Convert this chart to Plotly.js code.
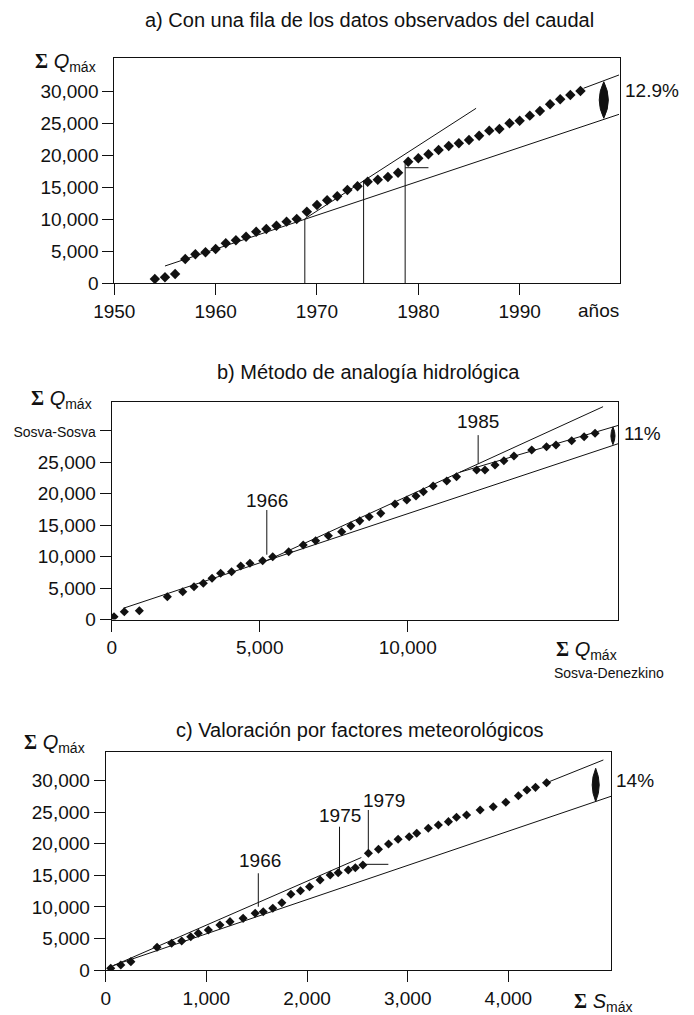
<!DOCTYPE html>
<html><head><meta charset="utf-8">
<script src="https://cdn.plot.ly/plotly-3.0.1.min.js"></script>
<style>html,body{margin:0;padding:0;background:#fff}</style>
</head><body><div id="chart" style="width:694px;height:1015px"></div>
<script>
// ---------- Panel a: cumulative flow vs year ----------
const yearsA = [1954,1955,1956,1957,1958,1959,1960,1961,1962,1963,1964,1965,1966,1967,1968,1969,1970,1971,1972,1973,1974,1975,1976,1977,1978,1979,1980,1981,1982,1983,1984,1985,1986,1987,1988,1989,1990,1991,1992,1993,1994,1995,1996];
const sumQA = [670,940,1460,3800,4540,4860,5370,6260,6730,7300,8080,8500,9020,9650,10070,11210,12260,13000,13620,14610,15190,15910,16220,16650,17320,19040,19580,20200,20880,21500,21920,22440,23110,23900,24160,25060,25460,26250,26980,28030,28810,29490,30110];
const aLineLowerX = [1955, 1999.8], aLineLowerY = [2710, 26460];
const aLineUpperX = [1968.8, 1985.7], aLineUpperY = [10100, 27400];
const aLineTopX = [1996.3, 1999.8], aLineTopY = [30540, 32620];
const aMarkX = [1968.8, 1974.6, 1978.7], aMarkTop = [10100, 16100, 19000];
const aStepX = [1978.7, 1981], aStepY = [18100, 18100];
const aArrowX = 1998.3, aArrowY = [25840, 31570];
const aXTicks = [1950,1960,1970,1980,1990];
const aYTicks = [0,5000,10000,15000,20000,25000,30000];

// ---------- Panel b: hydrological analogy ----------
const sumQDenezkino = [78,426,934,1880,2400,2780,3095,3390,3680,4050,4360,4670,5100,5440,5980,6470,6890,7320,7770,8080,8380,8700,9090,9570,9970,10280,10530,10860,11320,11650,12330,12610,12950,13250,13590,14190,14690,15010,15540,15960,16330];
const sumQSosva = [445,1240,1400,3620,4420,5210,5750,6550,7340,7600,8500,8930,9340,9980,10770,11840,12520,13320,13950,14880,15680,16340,16870,18350,18990,19620,20310,21210,22010,22690,23750,23750,24550,25230,25980,26930,27460,27730,28410,29050,29590];
const bLineLowerX = [390, 17150], bLineLowerY = [1780, 28000];
const bLineUpperX = [5240, 16600], bLineUpperY = [9370, 33820];
const bLineMidX = [11770, 17150], bLineMidY = [23420, 30900];
const bMarkX = [5240, 12380], bMarkY0 = [10300, 24750], bMarkY1 = [17400, 29300];
const bMarkLabels = ["1966", "1985"], bLabelY = [18990, 31430];
const bArrowX = 16934, bArrowY = [27800, 30600];
const bXTicks = [0,5000,10000];
const bYTicks = [0,5000,10000,15000,20000,25000,30000];
const bTopTickLabel = "Sosva-Sosva";

// ---------- Panel c: meteorological factors ----------
const sumSmax = [50,150,250,510,655,755,845,920,1020,1135,1235,1365,1485,1565,1660,1750,1840,1935,2025,2130,2230,2310,2410,2480,2555,2610,2710,2810,2905,3015,3090,3205,3305,3405,3485,3585,3720,3850,3975,4100,4185,4270,4380];
const sumQC = [270,790,1320,3600,4230,4600,5280,5820,6340,7130,7660,8190,8990,9240,9780,10670,12000,12570,13200,14270,15060,15420,15850,16200,16640,18500,19130,19970,20720,21130,21670,22460,22980,23510,24200,24570,25360,25880,26580,27630,28530,28950,29680];
const cLineLowerX = [80, 5020], cLineLowerY = [750, 27530];
const cLineUpperX = [40, 2540], cLineUpperY = [430, 17830];
const cLineTopX = [4380, 4944], cLineTopY = [29680, 33290];
const cMarkX = [1516, 2323, 2609], cMarkY0 = [10030, 15850, 18750], cMarkY1 = [15330, 22710, 25360];
const cMarkLabels = ["1966", "1975", "1979"], cLabelX = [1533, 2330, 2767], cLabelY = [17320, 24490, 26945];
const cStepX = [2560, 2808], cStepY = [16750, 16750];
const cArrowX = 4868, cArrowY = [26680, 31970];
const cXTicks = [0,1000,2000,3000,4000];
const cYTicks = [0,5000,10000,15000,20000,25000,30000];

// ---------- helpers ----------
const W = 694, H = 1015;
const px = p => p / W, py = p => 1 - p / H;
const fmt = v => v.toLocaleString('en-US');
const FONT = 'Liberation Sans, Arial, Helvetica, sans-serif';
const INK = '#111';

function segs(xs, y0s, y1s) {
  const X = [], Y = [];
  xs.forEach((x, i) => { X.push(x, x, null); Y.push(y0s[i], y1s[i], null); });
  return {x: X, y: Y};
}
function lineTrace(x, y, ax) {
  return {x, y, xaxis: 'x' + ax, yaxis: 'y' + ax, mode: 'lines', type: 'scatter',
          line: {color: INK, width: 1}, hoverinfo: 'skip', connectgaps: false};
}
function pointTrace(x, y, ax, size) {
  return {x, y, xaxis: 'x' + ax, yaxis: 'y' + ax, mode: 'markers', type: 'scatter',
          marker: {symbol: 'diamond', size, color: INK, line: {width: 0}}};
}
function lens(x, y0, y1, halfW, ax) {
  const m = (y0 + y1) / 2;
  return {type: 'path', xref: 'x' + ax, yref: 'y' + ax,
    path: `M ${x},${y0} Q ${x + 2*halfW},${m} ${x},${y1} Q ${x - 2*halfW},${m} ${x},${y0} Z`,
    fillcolor: INK, line: {color: INK, width: 1}};
}
function axisBase(domain, range, tickvals, ticktext, anchor) {
  return {domain, range, tickvals, ticktext, anchor, tickmode: 'array',
    showline: true, linecolor: INK, linewidth: 1, mirror: true,
    ticks: 'outside', ticklen: 11, tickwidth: 1, tickcolor: INK,
    showgrid: false, zeroline: false, fixedrange: true,
    tickfont: {family: FONT, size: 19, color: INK}};
}
const sigmaQ = '<span style="font-family:Liberation Serif"><b>Σ</b></span> <i>Q</i><sub>máx</sub>';
const sigmaS = '<span style="font-family:Liberation Serif"><b>Σ</b></span> <i>S</i><sub>máx</sub>';
function note(text, x, y, xanchor, size) {
  return {text, x: px(x), y: py(y), xref: 'paper', yref: 'paper',
    xanchor: xanchor || 'center', yanchor: 'middle', showarrow: false,
    font: {family: FONT, size: size || 19, color: INK}};
}

// ---------- traces ----------
const aMarks = segs(aMarkX, aMarkX.map(() => 0), aMarkTop);
const bMarks = segs(bMarkX, bMarkY0, bMarkY1);
const cMarks = segs(cMarkX, cMarkY0, cMarkY1);

const data = [
  lineTrace(aLineLowerX, aLineLowerY, ''), lineTrace(aLineUpperX, aLineUpperY, ''),
  lineTrace(aLineTopX, aLineTopY, ''), lineTrace(aMarks.x, aMarks.y, ''), lineTrace(aStepX, aStepY, ''),
  pointTrace(yearsA, sumQA, '', 8),

  lineTrace(bLineLowerX, bLineLowerY, '2'), lineTrace(bLineUpperX, bLineUpperY, '2'),
  lineTrace(bLineMidX, bLineMidY, '2'), lineTrace(bMarks.x, bMarks.y, '2'),
  pointTrace(sumQDenezkino, sumQSosva, '2', 7),

  lineTrace(cLineLowerX, cLineLowerY, '3'), lineTrace(cLineUpperX, cLineUpperY, '3'),
  lineTrace(cLineTopX, cLineTopY, '3'), lineTrace(cMarks.x, cMarks.y, '3'), lineTrace(cStepX, cStepY, '3'),
  pointTrace(sumSmax, sumQC, '3', 7)
];

// ---------- layout ----------
const bYText = bYTicks.map((v, i) => i === bYTicks.length - 1
  ? '<span style="font-size:14px">' + bTopTickLabel + '</span>' : fmt(v));

const layout = {
  width: W, height: H, margin: {l: 0, r: 0, t: 0, b: 0},
  paper_bgcolor: '#fff', plot_bgcolor: '#fff', showlegend: false,
  font: {family: FONT, size: 19, color: INK},
  xaxis: axisBase([px(114.3), px(620)], [1950, 1999.9], aXTicks, aXTicks.map(String), 'y'),
  yaxis: axisBase([py(283.3), py(57.7)], [0, 35327], aYTicks, aYTicks.map(fmt), 'x'),
  xaxis2: axisBase([px(111.7), px(618.3)], [0, 17115], bXTicks, bXTicks.map(fmt), 'y2'),
  yaxis2: axisBase([py(619.5), py(401.7)], [0, 34615], bYTicks, bYText, 'x2'),
  xaxis3: axisBase([px(105.7), px(611)], [0, 5020], cXTicks, cXTicks.map(fmt), 'y3'),
  yaxis3: axisBase([py(970), py(752.3)], [0, 34505], cYTicks, cYTicks.map(fmt), 'x3'),
  shapes: [
    lens(aArrowX, aArrowY[0], aArrowY[1], 0.45, ''),
    lens(bArrowX, bArrowY[0], bArrowY[1], 70, '2'),
    lens(cArrowX, cArrowY[0], cArrowY[1], 35, '3')
  ],
  annotations: [
    note('a) Con una fila de los datos observados del caudal', 369, 20, 'center', 20),
    note(sigmaQ, 33, 62, 'left', 20),
    note('12.9%', 623, 90, 'left', 19),
    note('años', 598, 310, 'center', 19),

    note('b) Método de analogía hidrológica', 368, 372, 'center', 20),
    note(sigmaQ, 29, 400, 'left', 20),
    note('11%', 622, 433, 'left', 19),
    note(sigmaQ, 554, 650, 'left', 20),
    note('Sosva-Denezkino', 609, 673, 'center', 14),

    note('c) Valoración por factores meteorológicos', 360, 730, 'center', 20),
    note(sigmaQ, 22, 743, 'left', 20),
    note('14%', 614, 780, 'left', 19),
    note(sigmaS, 572, 1002, 'left', 20)
  ]
};
bMarkLabels.forEach((t, i) => layout.annotations.push({text: t, x: bMarkX[i], y: bLabelY[i], xref: 'x2', yref: 'y2',
  showarrow: false, xanchor: 'center', yanchor: 'middle', font: {family: FONT, size: 19, color: INK}}));
cMarkLabels.forEach((t, i) => layout.annotations.push({text: t, x: cLabelX[i], y: cLabelY[i], xref: 'x3', yref: 'y3',
  showarrow: false, xanchor: 'center', yanchor: 'middle', font: {family: FONT, size: 19, color: INK}}));

Plotly.newPlot('chart', data, layout, {staticPlot: true, displayModeBar: false});
</script>
</body></html>
